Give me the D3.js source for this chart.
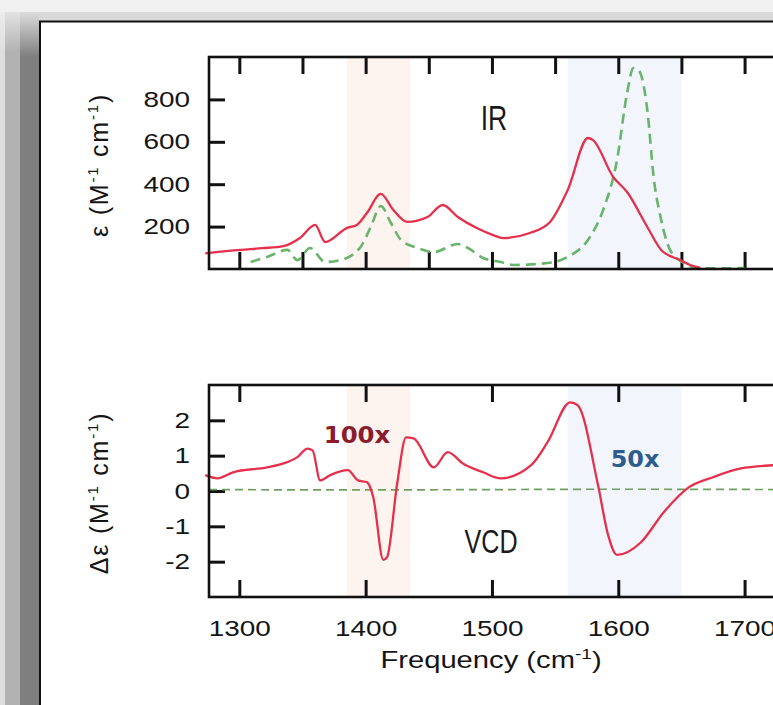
<!DOCTYPE html>
<html><head><meta charset="utf-8">
<script src="https://cdn.jsdelivr.net/npm/d3@7"></script>
<style>html,body{margin:0;padding:0;background:#f0f0f0;}svg{display:block;}</style>
</head><body>
<script>
// ---------- data ----------
const irRedFreq = [1273, 1301, 1318, 1335, 1348, 1360, 1368, 1385, 1393, 1401, 1412, 1422, 1433, 1449, 1461, 1473, 1488, 1501, 1509, 1530, 1546, 1560, 1576, 1580, 1596, 1607, 1623, 1634, 1649, 1657, 1665];
const irRed     = [74, 90, 98, 108, 146, 208, 127, 193, 208, 264, 354, 278, 222, 245, 302, 245, 193, 160, 146, 170, 222, 373, 618, 608, 434, 363, 198, 90, 42, 19, 5];

const irGreenFreq = [1309, 1322, 1338, 1346, 1356, 1368, 1380, 1396, 1404, 1412, 1420, 1428, 1441, 1454, 1473, 1481, 1493, 1507, 1517, 1544, 1560, 1576, 1588, 1599, 1607, 1612, 1616, 1623, 1628, 1634, 1641, 1652, 1663, 1680, 1700];
const irGreen     = [33, 57, 90, 42, 99, 33, 42, 104, 198, 297, 217, 137, 99, 80, 118, 99, 52, 33, 19, 28, 57, 137, 278, 514, 830, 948, 939, 750, 434, 231, 90, 28, 5, 3, 5];

const vcdRedFreq = [1273, 1283, 1295, 1322, 1335, 1346, 1354, 1358, 1364, 1372, 1386, 1394, 1401, 1406, 1414, 1417, 1425, 1432, 1438, 1454, 1465, 1477, 1493, 1507, 1531, 1544, 1562, 1568, 1584, 1592, 1599, 1618, 1636, 1655, 1675, 1697, 1723, 1735];
const vcdRed     = [0.45, 0.36, 0.53, 0.67, 0.78, 0.96, 1.2, 1.15, 0.3, 0.45, 0.59, 0.3, 0.25, -0.17, -1.95, -1.87, 0.22, 1.52, 1.49, 0.67, 1.1, 0.78, 0.53, 0.36, 0.73, 1.38, 2.51, 2.42, 0.16, -1.25, -1.81, -1.45, -0.6, 0.08, 0.39, 0.64, 0.73, 0.75];

const vcdGreenFreq = [1276, 1400, 1500, 1600, 1735];
const vcdGreen     = [0.04, 0.03, 0.04, 0.05, 0.04];

const topYTicks = [200, 400, 600, 800];
const topXTicks = [1300, 1350, 1400, 1450, 1500, 1550, 1600, 1650, 1700];
const botYTicks = [-2, -1, 0, 1, 2];
const botXTicks = [1300, 1400, 1500, 1600, 1700];
const bands = [[1385, 1435, "#fdf3ef"], [1560, 1650, "#f2f5fc"]];

// ---------- layout ----------
const W = 773, H = 705;
const svg = d3.select("body").append("svg").attr("width", W).attr("height", H);
const FONT = "'Liberation Sans', Arial, sans-serif";
const SX = 1.27;

// slide frame background
svg.append("rect").attr("width", W).attr("height", H).attr("fill", "#f0f0f0");
svg.append("rect").attr("x", 0).attr("y", 12).attr("width", W).attr("height", 10).attr("fill", "#d9d9d9");
const defs = svg.append("defs");
function vgrad(id, c0, c1) {
  const g = defs.append("linearGradient").attr("id", id).attr("x1", 0).attr("x2", 0).attr("y1", 0).attr("y2", 1);
  g.append("stop").attr("offset", 0).attr("stop-color", c0);
  g.append("stop").attr("offset", 1).attr("stop-color", c1);
}
vgrad("g1", "#ececec", "#dedede");
vgrad("g2", "#e2e2e2", "#b2b2b2");
vgrad("g3", "#dcdcdc", "#7f7f7f");
svg.append("rect").attr("x", 0).attr("y", 12).attr("width", 5).attr("height", 40).attr("fill", "url(#g1)");
svg.append("rect").attr("x", 0).attr("y", 52).attr("width", 5).attr("height", H).attr("fill", "#dedede");
svg.append("rect").attr("x", 5).attr("y", 12).attr("width", 15).attr("height", 40).attr("fill", "url(#g2)");
svg.append("rect").attr("x", 5).attr("y", 52).attr("width", 15).attr("height", H).attr("fill", "#b2b2b2");
svg.append("rect").attr("x", 20).attr("y", 12).attr("width", 19).attr("height", 45).attr("fill", "url(#g3)");
svg.append("rect").attr("x", 20).attr("y", 57).attr("width", 19).attr("height", H).attr("fill", "#7f7f7f");
svg.append("rect").attr("x", 40).attr("y", 21.5).attr("width", 900).attr("height", 900)
  .attr("fill", "#ffffff").attr("stroke", "#111").attr("stroke-width", 2);

// scales
const x = d3.scaleLinear().domain([1276, 1732]).range([209, 785]);
const yTop = d3.scaleLinear().domain([0, 1000]).range([269, 57]);
const yBot = d3.scaleLinear().domain([-3, 3]).range([597, 385]);

function panel(top, bottom) {
  const g = svg.append("g");
  bands.forEach(b => {
    g.append("rect").attr("x", x(b[0])).attr("width", x(b[1]) - x(b[0]))
      .attr("y", top).attr("height", bottom - top).attr("fill", b[2]);
  });
  return g;
}
panel(57, 269);
panel(385, 597);

function stretchTexts(sel) {
  sel.selectAll("text").each(function () {
    const t = d3.select(this);
    const tx = +t.attr("x") || 0;
    const ty = +t.attr("y") || 0;
    t.attr("x", 0).attr("y", 0).attr("transform", `translate(${tx},${ty}) scale(${SX},1)`);
  });
}
function styleAxis(g) {
  g.select(".domain").remove();
  g.selectAll(".tick line").attr("stroke", "#111").attr("stroke-width", 3);
  g.selectAll("text").attr("font-family", FONT).attr("font-size", 22).attr("fill", "#151515");
}
const fmt = d => String(d);

// ---- top panel axes ----
let a;
a = svg.append("g").attr("transform", "translate(209,0)")
  .call(d3.axisLeft(yTop).tickValues(topYTicks).tickFormat(fmt).tickSizeInner(-16).tickSizeOuter(0).tickPadding(19));
styleAxis(a); stretchTexts(a);
a = svg.append("g").attr("transform", "translate(0,57)")
  .call(d3.axisTop(x).tickValues(topXTicks).tickSizeInner(-17).tickSizeOuter(0).tickFormat(""));
styleAxis(a);
a = svg.append("g").attr("transform", "translate(0,269)")
  .call(d3.axisBottom(x).tickValues(topXTicks).tickSizeInner(-17).tickSizeOuter(0).tickFormat(""));
styleAxis(a);

// ---- bottom panel axes ----
a = svg.append("g").attr("transform", "translate(209,0)")
  .call(d3.axisLeft(yBot).tickValues(botYTicks).tickFormat(fmt).tickSizeInner(-16).tickSizeOuter(0).tickPadding(19));
styleAxis(a); stretchTexts(a);
a = svg.append("g").attr("transform", "translate(0,385)")
  .call(d3.axisTop(x).tickValues(botXTicks).tickSizeInner(-17).tickSizeOuter(0).tickFormat(""));
styleAxis(a);
a = svg.append("g").attr("transform", "translate(0,597)")
  .call(d3.axisBottom(x).tickValues(botXTicks).tickFormat(fmt).tickSizeInner(-17).tickSizeOuter(0).tickPadding(23));
styleAxis(a); stretchTexts(a);

// ---- lines ----
function drawLine(g, fx, fy, yS, color, width, dash) {
  const data = fx.map((f, i) => [f, fy[i]]);
  g.append("path").datum(data)
    .attr("fill", "none").attr("stroke", color).attr("stroke-width", width)
    .attr("stroke-dasharray", dash || null).attr("stroke-linejoin", "round")
    .attr("d", d3.line().x(d => x(d[0])).y(d => yS(d[1])).curve(d3.curveMonotoneX));
}
const clipTop = defs.append("clipPath").attr("id", "ct");
clipTop.append("rect").attr("x", 200).attr("y", 57).attr("width", 600).attr("height", 212);
const clipBot = defs.append("clipPath").attr("id", "cb");
clipBot.append("rect").attr("x", 200).attr("y", 385).attr("width", 600).attr("height", 212);
const lt = svg.append("g").attr("clip-path", "url(#ct)");
const lb = svg.append("g").attr("clip-path", "url(#cb)");
drawLine(lt, irGreenFreq, irGreen, yTop, "#68b46c", 2.6, "10,6");
drawLine(lt, irRedFreq, irRed, yTop, "#e5304c", 2.3);
drawLine(lb, vcdGreenFreq, vcdGreen, yBot, "#6f9f60", 1.7, "8,5");
drawLine(lb, vcdRedFreq, vcdRed, yBot, "#e5304c", 2.3);

// ---- frames of panels ----
svg.append("rect").attr("x", 209).attr("y", 57).attr("width", 700).attr("height", 212)
  .attr("fill", "none").attr("stroke", "#111").attr("stroke-width", 2.6);
svg.append("rect").attr("x", 209).attr("y", 385).attr("width", 700).attr("height", 212)
  .attr("fill", "none").attr("stroke", "#111").attr("stroke-width", 2.6);

// ---- annotations ----
function sText(xp, yp, txt, size, family, weight, color, sx, anchor) {
  return svg.append("text").attr("transform", `translate(${xp},${yp}) scale(${sx},1)`)
    .attr("font-family", family).attr("font-size", size).attr("font-weight", weight)
    .attr("fill", color).attr("text-anchor", anchor || "middle").text(txt);
}
sText(494, 130, "IR", 35, FONT, "normal", "#1a1a1a", 0.76);
sText(491, 553, "VCD", 34, FONT, "normal", "#1a1a1a", 0.74);
sText(357, 443, "100x", 23, "'DejaVu Sans', Verdana, sans-serif", "bold", "#8a1c2e", 1.06);
sText(635, 467, "50x", 23, "'DejaVu Sans', Verdana, sans-serif", "bold", "#2b5e8c", 1.04);

// x title
const xt = svg.append("text").attr("transform", `translate(491,668) scale(${SX},1)`)
  .attr("font-family", FONT).attr("font-size", 23).attr("fill", "#151515").attr("text-anchor", "middle");
xt.append("tspan").text("Frequency (cm");
xt.append("tspan").attr("font-size", 15).attr("dy", -9).text("-1");
xt.append("tspan").attr("dy", 9).text(")");

// y titles
function yTitle(cy, prefix) {
  const t = svg.append("text").attr("transform", `translate(108,${cy}) rotate(-90)`)
    .attr("font-family", FONT).attr("font-size", 25).attr("letter-spacing", 1.8)
    .attr("fill", "#151515").attr("text-anchor", "middle");
  t.append("tspan").text(prefix + " (M");
  t.append("tspan").attr("font-size", 15).attr("dy", -10).text("-1");
  t.append("tspan").attr("dy", 10).text(" cm");
  t.append("tspan").attr("font-size", 15).attr("dy", -10).text("-1");
  t.append("tspan").attr("dy", 10).text(")");
}
yTitle(165, "ε");
yTitle(493, "Δε");
</script>
</body></html>
